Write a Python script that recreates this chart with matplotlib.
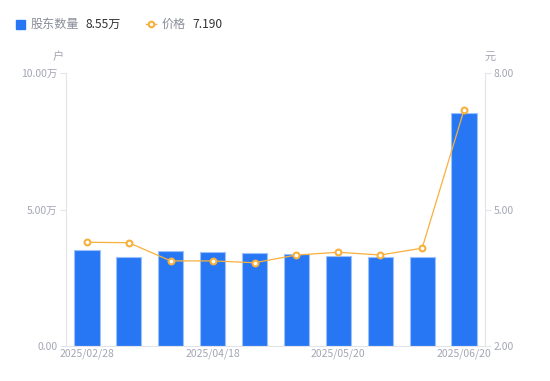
import matplotlib
matplotlib.use("Agg")
import matplotlib.pyplot as plt
import numpy as np

plt.rcParams['font.family'] = ['Noto Sans CJK SC', 'DejaVu Sans']

# data (bars: 万户, line: 元)
dates = ["2025/02/28", "2025/03/10", "2025/03/31", "2025/04/18", "2025/04/30",
         "2025/05/10", "2025/05/20", "2025/05/31", "2025/06/10", "2025/06/20"]
holders = [3.51, 3.26, 3.48, 3.46, 3.40, 3.36, 3.28, 3.26, 3.26, 8.55]
price = [4.28, 4.27, 3.87, 3.87, 3.83, 4.00, 4.06, 4.00, 4.15, 7.19]
tick_idx = [0, 3, 6, 9]

blue = "#2777f5"
orange = "#f8b03c"
grey = "#a3a6b4"
axc = "#e3e4e8"

fig = plt.figure(figsize=(5.5, 3.81), dpi=100)
ax = fig.add_axes([66/550, 35/381, 419/550, 273/381])
x = np.arange(len(dates))
ax.bar(x, holders, width=0.6, color=blue, edgecolor="#9cc0fa", linewidth=0.8, zorder=2)
ax.set_xlim(-0.5, len(dates) - 0.5)
ax.set_ylim(0, 10)
ax.set_yticks([0, 5, 10])
ax.set_yticklabels(["0.00", "5.00万", "10.00万"])
ax.set_xticks(tick_idx)
ax.set_xticklabels([dates[i] for i in tick_idx])

ax2 = ax.twinx()
ax2.plot(x, price, color=orange, lw=0.9, marker="o", ms=4.2, mfc="white",
         mec=orange, mew=1.5, zorder=3)
ax2.set_ylim(2, 8)
ax2.set_yticks([2, 5, 8])
ax2.set_yticklabels(["2.00", "5.00", "8.00"])

for a in (ax, ax2):
    for s in a.spines.values():
        s.set_visible(False)
    a.tick_params(colors=grey, labelsize=7.5, length=0, pad=4)
    a.patch.set_visible(False)
ax.spines['left'].set_visible(True)
ax.spines['left'].set_color(axc)
ax.spines['bottom'].set_visible(True)
ax.spines['bottom'].set_color(axc)
ax2.spines['right'].set_visible(True)
ax2.spines['right'].set_color(axc)
ax.tick_params(axis='y', length=4, color=axc, pad=2)
ax2.tick_params(axis='y', length=4, color=axc, pad=2)
ax.tick_params(axis='x', pad=2)

# unit labels
fig.text(58/550, 1 - 57/381, "户", color=grey, fontsize=8, ha="center", va="center")
fig.text(490/550, 1 - 57/381, "元", color=grey, fontsize=8, ha="center", va="center")

# legend
fig.patches.append(plt.Rectangle((16/550, 1 - 29/381), 9/550, 9/381, color=blue,
                                 transform=fig.transFigure, figure=fig))
fig.text(31/550, 1 - 24/381, "股东数量", color="#8a8d99", fontsize=8.7, va="center")
fig.text(85/550, 1 - 24/381, "8.55万", color="#333333", fontsize=8.7, va="center")
fig.add_artist(plt.Line2D([146/550, 156/550], [1 - 24/381, 1 - 24/381], color=orange, lw=1,
                          transform=fig.transFigure))
fig.add_artist(plt.Line2D([151/550], [1 - 24/381], color=orange, lw=0,
                          marker="o", ms=4, mfc="white", mec=orange, mew=1.5,
                          transform=fig.transFigure))
fig.text(162/550, 1 - 24/381, "价格", color="#8a8d99", fontsize=8.7, va="center")
fig.text(192/550, 1 - 24/381, "7.190", color="#333333", fontsize=8.7, va="center")

fig.savefig("out.png", dpi=100)
